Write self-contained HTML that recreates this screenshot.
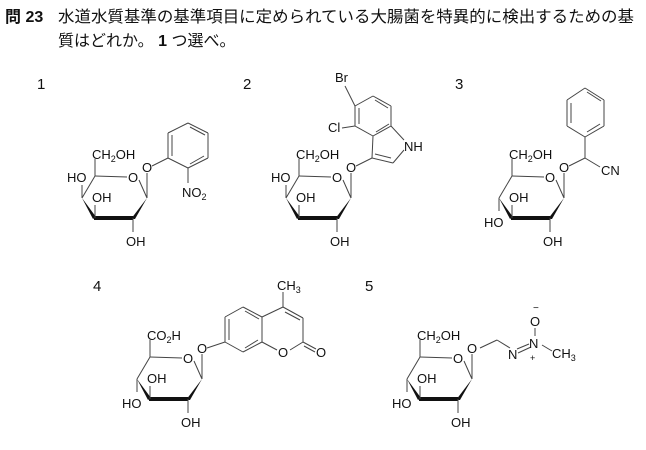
<!DOCTYPE html>
<html><head><meta charset="utf-8"><style>
body{margin:0;background:#fff;width:646px;height:450px;overflow:hidden;}
svg{position:absolute;left:0;top:0}
text{font-family:"Liberation Sans",Arial,sans-serif;font-size:13px;fill:#111}
.hd{font-family:"Liberation Sans","Noto Sans CJK JP",sans-serif;font-size:16px;fill:#111}
.num{font-size:15px}
</style></head><body>
<svg id="s" width="646" height="450" xmlns="http://www.w3.org/2000/svg">
<text class="hd" x="5" y="22" font-weight="bold">問 23</text>
<text class="hd" x="58" y="22" textLength="576" lengthAdjust="spacingAndGlyphs">水道水質基準の基準項目に定められている大腸菌を特異的に検出するための基</text>
<text class="hd" x="58" y="46">質はどれか。 <tspan font-weight="bold">1</tspan> つ選べ。</text>
<text class="num" x="37" y="89">1</text>
<text class="num" x="243" y="89">2</text>
<text class="num" x="455" y="89">3</text>
<text class="num" x="93" y="291">4</text>
<text class="num" x="365" y="291">5</text>
<g id="g" stroke="#444" stroke-width="1" fill="none"></g>
</svg>
<script>
var g=document.getElementById('g'),s=document.getElementById('s');
function L(a,b,c,d,w){var e=document.createElementNS('http://www.w3.org/2000/svg','line');e.setAttribute('x1',a);e.setAttribute('y1',b);e.setAttribute('x2',c);e.setAttribute('y2',d);if(w)e.setAttribute('stroke-width',w);g.appendChild(e);}
function P(pts){var e=document.createElementNS('http://www.w3.org/2000/svg','polygon');e.setAttribute('points',pts);e.setAttribute('fill','#111');e.setAttribute('stroke','none');g.appendChild(e);}
function T(x,y,t,sz){var e=document.createElementNS('http://www.w3.org/2000/svg','text');e.setAttribute('x',x);e.setAttribute('y',y);if(sz)e.setAttribute('style','font-size:'+sz+'px');e.innerHTML=t;s.appendChild(e);}
function sugar(ox,oy,gal,top){
 var C5=[ox-38,oy-1],C4=[ox-51,oy+21],C3=[ox-38,oy+41],C2=[ox,oy+41],C1=[ox+14,oy+21];
 L(C5[0],C5[1],ox-6,oy);L(ox+6,oy+3,C1[0],C1[1]);L(C5[0],C5[1],C4[0],C4[1]);
 P((C4[0])+','+C4[1]+' '+(C3[0]-2)+','+(C3[1]+1)+' '+(C3[0]+1)+','+(C3[1]-1));
 P((C3[0]-1)+','+(C3[1]-2)+' '+C2[0]+','+(C2[1]-2)+' '+C2[0]+','+(C2[1]+2)+' '+(C3[0]-1)+','+(C3[1]+2));
 P((C2[0]-2)+','+(C2[1]+1)+' '+(C2[0]+2)+','+(C2[1]+1)+' '+C1[0]+','+C1[1]);
 L(C5[0],C5[1],C5[0],oy-18);T(C5[0]-3,oy-18,top);
 L(C2[0],C2[1],C2[0],C2[1]+14);T(C2[0]-7,C2[1]+28,'OH');
 L(C3[0],C3[1],C3[0],C3[1]-13);T(C3[0]-3,C3[1]-16,'OH');
 if(gal){L(C4[0],C4[1],C4[0],C4[1]-13);T(C4[0]-15,C4[1]-16,'HO');}
 else{L(C4[0],C4[1],C4[0],C4[1]+13);T(C4[0]-15,C4[1]+29,'HO');}
 T(ox-5,oy+5,'O');
 L(C1[0],C1[1],C1[0],oy-4);T(C1[0]-5,oy-5,'O');
}
// 1
sugar(133,177,1,'CH<tspan dy="3" style="font-size:9px">2</tspan><tspan dy="-3">OH</tspan>');
L(152,166,168,158);
var b=[[168,158],[168,133],[188,123],[208,133],[208,158],[188,168]];
for(var i=0;i<6;i++){var p=b[i],q=b[(i+1)%6];L(p[0],p[1],q[0],q[1]);}
L(172,135,172,156);L(190,127,205,135);L(204,156,190,164);
L(188,168,188,183);T(182,197,'NO<tspan dy="3" style="font-size:9px">2</tspan>');
// 2
sugar(337,177,1,'CH<tspan dy="3" style="font-size:9px">2</tspan><tspan dy="-3">OH</tspan>');
L(356,166,372,158);
var h=[[373,136],[355,126],[355,106],[373,96],[391,106],[391,126]];
for(i=0;i<6;i++){p=h[i];q=h[(i+1)%6];L(p[0],p[1],q[0],q[1]);}
L(359,108,359,124);L(375,100,388,108);L(389,124,376,132);
L(373,136,372,158);L(372,158,393,163);L(375,154,391,158);L(393,163,404,150);L(391,126,404,140);
T(404,151,'NH');L(355,106,345,86);T(335,82,'Br');L(355,126,342,128);T(328,132,'Cl');
// 3
sugar(550,177,0,'CH<tspan dy="3" style="font-size:9px">2</tspan><tspan dy="-3">OH</tspan>');
L(569,166,585,158);L(585,158,600,167);T(601,175,'CN');L(585,158,585,137);
var f=[[585,137],[567,126],[567,100],[585,88],[604,100],[604,126]];
for(i=0;i<6;i++){p=f[i];q=f[(i+1)%6];L(p[0],p[1],q[0],q[1]);}
L(571,103,571,123);L(587,92,601,101);L(600,124,587,132);
// 4
sugar(188,358,0,'CO<tspan dy="3" style="font-size:9px">2</tspan><tspan dy="-3">H</tspan>');
L(207,348,225,342);
var c=[[225,342],[225,317],[243,307],[262,317],[262,342],[243,352]];
for(i=0;i<6;i++){p=c[i];q=c[(i+1)%6];L(p[0],p[1],q[0],q[1]);}
L(229,319,229,340);L(245,311,259,319);L(258,340,245,348);
L(262,317,283,307);L(283,307,303,318);L(285,312,300,320);L(303,318,303,342);L(303,342,290,350);L(262,342,277,350);
T(278,357,'O');L(303,342,316,349);L(304,346,315,352);T(316,357,'O');
L(283,307,283,292);T(277,290,'CH<tspan dy="3" style="font-size:9px">3</tspan>');
// 5
sugar(458,358,0,'CH<tspan dy="3" style="font-size:9px">2</tspan><tspan dy="-3">OH</tspan>');
L(480,348,497,340);L(497,340,510,348);T(508,359,'N');L(517,349,529,344);L(518,353,531,347);T(529,348,'N');
T(530,361,'+',9);L(535,336,535,328);T(530,326,'O');T(533,311,'−',10);L(542,345,552,351);T(552,358,'CH<tspan dy="3" style="font-size:9px">3</tspan>');
</script>
</body></html>
